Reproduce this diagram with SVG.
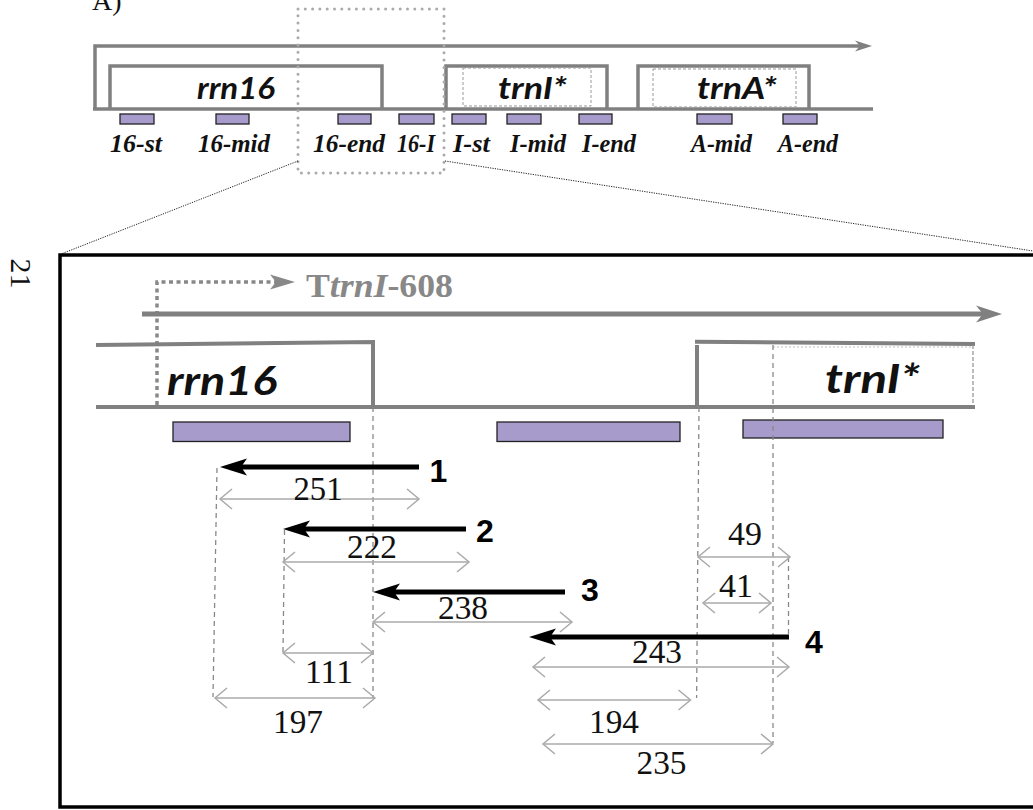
<svg xmlns="http://www.w3.org/2000/svg" width="1033" height="810" viewBox="0 0 1033 810">
<defs>
<style>
.g{fill:none;stroke:#808080;stroke-width:3.5}
.gz{fill:none;stroke:#808080;stroke-width:4}
.bar{fill:#a79bcb;stroke:#222;stroke-width:1.3}
.lbl{font-family:"Liberation Serif",serif;font-weight:bold;font-style:italic;font-size:25px;fill:#111;text-anchor:middle}
.gene{font-family:Lato,"Open Sans",sans-serif;font-weight:bold;font-style:italic;fill:#111;text-anchor:middle}
.num{font-family:"Liberation Serif",serif;font-size:33px;fill:#111;text-anchor:middle}
.pid{font-family:"Liberation Sans",Arial,sans-serif;font-weight:bold;font-size:32px;fill:#000;text-anchor:middle}
.guide{fill:none;stroke:#888;stroke-width:1.3;stroke-dasharray:5 4}
.dim{fill:none;stroke:#aaa;stroke-width:1.5;marker-start:url(#chev);marker-end:url(#chev)}
.prm{fill:none;stroke:#000;stroke-width:5;marker-end:url(#blk)}
.inner{fill:none;stroke:#999;stroke-width:1;stroke-dasharray:3 2}
.zoomln{fill:none;stroke:#222;stroke-width:1;stroke-dasharray:1.2 1.2}
</style>
<marker id="chev" markerUnits="userSpaceOnUse" viewBox="-14 -12 16 24" markerWidth="16" markerHeight="24" refX="0" refY="0" orient="auto-start-reverse"><path d="M-12,-10 L0,0 L-12,10" fill="none" stroke="#aaa" stroke-width="1.5"/></marker>
<marker id="blk" markerUnits="userSpaceOnUse" viewBox="-30 -10 32 20" markerWidth="32" markerHeight="20" refX="-21" refY="0" orient="auto"><path d="M0,0 L-27,-8.5 L-21,0 L-27,8.5 Z" fill="#000"/></marker>
<marker id="ga" markerUnits="userSpaceOnUse" viewBox="-30 -10 32 20" markerWidth="32" markerHeight="20" refX="-19" refY="0" orient="auto"><path d="M0,0 L-26,-8.5 L-19,0 L-26,8.5 Z" fill="#808080"/></marker>
<marker id="gs" markerUnits="userSpaceOnUse" viewBox="-20 -8 22 16" markerWidth="22" markerHeight="16" refX="-12" refY="0" orient="auto"><path d="M0,0 L-17,-5.5 L-12,0 L-17,5.5 Z" fill="#808080"/></marker>
<marker id="gd" markerUnits="userSpaceOnUse" viewBox="-28 -10 30 20" markerWidth="30" markerHeight="20" refX="-19" refY="0" orient="auto"><path d="M0,0 L-25,-7.5 L-19,0 L-25,7.5 Z" fill="#888"/></marker>
</defs>
<rect width="1033" height="810" fill="#fff"/>

<text x="92" y="10" font-family="Liberation Serif, serif" font-size="28" fill="#111">A)</text>
<text transform="translate(11,273.5) rotate(90)" font-family="Liberation Serif, serif" font-size="30" fill="#111" text-anchor="middle">21</text>

<g id="overview">
<path class="g" d="M95,109 V46 H860" marker-end="url(#gs)"/>
<line class="g" x1="93" y1="109" x2="873" y2="109"/>
</g>
<g id="rrn16-top">
<path class="g" d="M110,109 V66 H382 V109"/>
<text class="gene" x="236" y="99" font-size="30" textLength="78" lengthAdjust="spacingAndGlyphs">rrn16</text>
</g>
<g id="trnI-top">
<path class="g" d="M446,109 V66 H607 V109"/>
<rect class="inner" x="463" y="68" width="128" height="38"/>
<text class="gene" x="532.5" y="99" font-size="30" textLength="69" lengthAdjust="spacingAndGlyphs">trnI*</text>
</g>
<g id="trnA-top">
<path class="g" d="M638,109 V66 H809 V109"/>
<rect class="inner" x="653" y="69" width="143" height="38"/>
<text class="gene" x="737" y="99" font-size="30" textLength="80" lengthAdjust="spacingAndGlyphs">trnA*</text>
</g>
<g id="probes-top">
<rect class="bar" x="120" y="114" width="34" height="10"/>
<rect class="bar" x="216" y="114" width="33" height="10"/>
<rect class="bar" x="338" y="114" width="33" height="10"/>
<rect class="bar" x="399" y="114" width="35" height="10"/>
<rect class="bar" x="452" y="114" width="34" height="10"/>
<rect class="bar" x="507" y="114" width="34" height="10"/>
<rect class="bar" x="579" y="114" width="33" height="10"/>
<rect class="bar" x="697" y="114" width="35" height="10"/>
<rect class="bar" x="783" y="114" width="34" height="10"/>
<text class="lbl" x="136" y="152" textLength="52" lengthAdjust="spacingAndGlyphs">16-st</text>
<text class="lbl" x="234" y="152" textLength="72" lengthAdjust="spacingAndGlyphs">16-mid</text>
<text class="lbl" x="349" y="152" textLength="72" lengthAdjust="spacingAndGlyphs">16-end</text>
<text class="lbl" x="416" y="152" textLength="38" lengthAdjust="spacingAndGlyphs">16-I</text>
<text class="lbl" x="471.5" y="152" textLength="37" lengthAdjust="spacingAndGlyphs">I-st</text>
<text class="lbl" x="538" y="152" textLength="56" lengthAdjust="spacingAndGlyphs">I-mid</text>
<text class="lbl" x="609" y="152" textLength="54" lengthAdjust="spacingAndGlyphs">I-end</text>
<text class="lbl" x="721.5" y="152" textLength="61" lengthAdjust="spacingAndGlyphs">A-mid</text>
<text class="lbl" x="808" y="152" textLength="60" lengthAdjust="spacingAndGlyphs">A-end</text>
</g>
<g id="selection">
<rect x="298" y="9" width="146" height="164" fill="none" stroke="#aaa" stroke-width="3" stroke-dasharray="0 7.3" stroke-linecap="round"/>
<line class="zoomln" x1="298" y1="161" x2="61" y2="254"/>
<line class="zoomln" x1="445" y1="161" x2="1033" y2="251"/>
</g>

<g id="panel">
<path d="M1040,255 H60 V807 H1040" fill="none" stroke="#000" stroke-width="3.5"/>
</g>
<g id="tss">
<path d="M157,405 V282 H276" fill="none" stroke="#888" stroke-width="3.5" stroke-dasharray="4 3.5" marker-end="url(#gd)"/>
<text x="306" y="297" font-family="Liberation Serif, serif" font-weight="bold" font-size="33" fill="#888" textLength="147" lengthAdjust="spacingAndGlyphs">T<tspan font-style="italic">trnI</tspan>-608</text>
</g>
<g id="transcript">
<line x1="142" y1="314" x2="983" y2="314" stroke="#808080" stroke-width="5" marker-end="url(#ga)"/>
</g>
<g id="rrn16-zoom">
<path class="gz" d="M96,345 L373,342 V407"/>
<text class="gene" x="222" y="395" font-size="40" textLength="110" lengthAdjust="spacingAndGlyphs">rrn16</text>
</g>
<g id="baseline-zoom">
<line class="gz" x1="96" y1="407" x2="975" y2="407"/>
</g>
<g id="trnI-zoom">
<path class="gz" d="M697,407 V345 M695,341.7 L975,344"/>
<line x1="973" y1="345" x2="973" y2="406" stroke="#999" stroke-width="1.3" stroke-dasharray="4 2"/>
<line x1="773" y1="347" x2="973" y2="347" stroke="#bbb" stroke-width="1" stroke-dasharray="2 2"/>
<text class="gene" x="872.5" y="393" font-size="40" textLength="95" lengthAdjust="spacingAndGlyphs">trnI*</text>
</g>
<g id="probes-zoom">
<rect class="bar" x="173" y="422" width="177" height="19.5"/>
<rect class="bar" x="497" y="422" width="183" height="19.5"/>
<rect class="bar" x="743" y="420" width="200" height="18"/>
</g>

<g id="connectors">
<line class="guide" x1="373" y1="407" x2="373" y2="698"/>
<line class="guide" x1="217" y1="468" x2="213" y2="697"/>
<line class="guide" x1="284.5" y1="530" x2="283" y2="652"/>
<line class="guide" x1="699" y1="407" x2="696.6" y2="698"/>
<line class="guide" x1="773" y1="345" x2="773" y2="743"/>
<line class="guide" x1="788.5" y1="557" x2="788.5" y2="636"/>

<path class="prm" d="M419,467 H241"/>
<path class="prm" d="M466,529 H304"/>
<path class="prm" d="M565,592 H394"/>
<path class="prm" d="M789,637 H550"/>

<line class="dim" x1="220" y1="499" x2="419" y2="499"/>
<line class="dim" x1="283" y1="562" x2="469" y2="562"/>
<line class="dim" x1="373" y1="622" x2="572" y2="622"/>
<line class="dim" x1="283" y1="653" x2="373" y2="653"/>
<line class="dim" x1="215" y1="698" x2="375" y2="698"/>
<line class="dim" x1="533" y1="667" x2="789" y2="667"/>
<line class="dim" x1="538" y1="700" x2="690.5" y2="700"/>
<line class="dim" x1="543" y1="744" x2="773" y2="744"/>
<line class="dim" x1="698" y1="557" x2="790" y2="557"/>
<line class="dim" x1="703" y1="603" x2="771" y2="603"/>
</g>

<g id="labels">
<text class="pid" x="438.5" y="482">1</text>
<text class="pid" x="485" y="542">2</text>
<text class="pid" x="590" y="601">3</text>
<text class="pid" x="814" y="653">4</text>
<text class="num" x="318" y="500" textLength="49" lengthAdjust="spacingAndGlyphs">251</text>
<text class="num" x="372" y="558" textLength="50" lengthAdjust="spacingAndGlyphs">222</text>
<text class="num" x="463" y="619" textLength="50" lengthAdjust="spacingAndGlyphs">238</text>
<text class="num" x="329" y="683" textLength="48" lengthAdjust="spacingAndGlyphs">111</text>
<text class="num" x="298" y="733" textLength="50" lengthAdjust="spacingAndGlyphs">197</text>
<text class="num" x="657" y="663" textLength="50" lengthAdjust="spacingAndGlyphs">243</text>
<text class="num" x="614" y="733" textLength="50" lengthAdjust="spacingAndGlyphs">194</text>
<text class="num" x="661.5" y="774" textLength="50" lengthAdjust="spacingAndGlyphs">235</text>
<text class="num" x="745" y="545" textLength="34" lengthAdjust="spacingAndGlyphs">49</text>
<text class="num" x="736" y="597" textLength="34" lengthAdjust="spacingAndGlyphs">41</text>
</g>
</svg>
